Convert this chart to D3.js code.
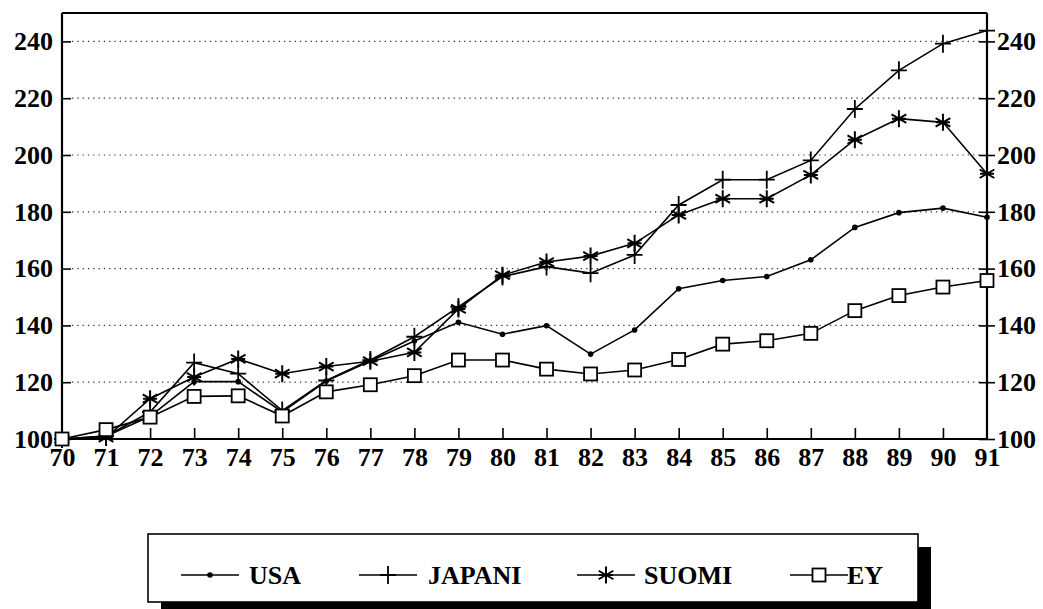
<!DOCTYPE html>
<html><head><meta charset="utf-8">
<script src="https://cdn.jsdelivr.net/npm/d3@7"></script>
<style>
html,body{margin:0;padding:0;background:#fff;}
svg{display:block;}
svg text{font-family:"Liberation Serif","DejaVu Serif","Times New Roman",serif !important;font-weight:bold;fill:#000;}
</style></head>
<body>
<script>
const years = ["70","71","72","73","74","75","76","77","78","79","80","81","82","83","84","85","86","87","88","89","90","91"];
const usa    = [100,101,108,120.2,120.2,109.5,120.4,127.5,134.5,141.1,136.9,139.9,129.9,138.4,152.9,155.8,157.2,163.1,174.5,179.7,181.3,178.1];
const japani = [100,101,109.5,126.9,123.0,110,120.6,127.8,136.0,146.5,157.2,160.7,158.4,164.8,182.4,191.3,191.3,198.1,216.2,229.8,239.2,243.8];
const suomi  = [100,100.5,114.2,121.8,128.2,123.0,125.5,127.4,130.5,145.8,157.7,162.3,164.4,168.9,178.9,184.6,184.6,193.0,205.4,212.8,211.5,193.4];
const ey     = [100,103.3,107.7,115.0,115.2,108.1,116.6,119.1,122.3,127.8,127.8,124.6,122.9,124.3,128.0,133.4,134.6,137.2,145.2,150.5,153.5,155.8];
const yTicks = [100,120,140,160,180,200,220,240];
const seriesNames = ["USA","JAPANI","SUOMI","EY"];
const markerTypes = ["dot","plus","star","square"];

const W = 1043, H = 609;
const FONT = "'Liberation Serif', 'DejaVu Serif', serif";
const svg = d3.select("body").append("svg").attr("width", W).attr("height", H);

const x = d3.scalePoint().domain(years).range([62, 987]);
const y = d3.scaleLinear().domain([100, 250]).range([439, 13]);

// gridlines
svg.append("g").selectAll("line").data(yTicks.filter(d => d > 100)).join("line")
  .attr("x1", 72).attr("x2", 980)
  .attr("y1", d => y(d)).attr("y2", d => y(d))
  .attr("stroke", "#333").attr("stroke-width", 1.2)
  .attr("stroke-dasharray", "1.3,4");

// frame top
svg.append("line").attr("x1", 62).attr("x2", 987).attr("y1", y(250)).attr("y2", y(250))
  .attr("stroke", "#000").attr("stroke-width", 2.2);

const leftAxis = d3.axisLeft(y).tickValues(yTicks).tickSize(-9).tickPadding(9).tickFormat(d3.format("d"));
const gl = svg.append("g").attr("transform", "translate(62,0)").call(leftAxis);
const rightAxis = d3.axisRight(y).tickValues(yTicks).tickSize(8).tickPadding(2).tickFormat(d3.format("d"));
const gr = svg.append("g").attr("transform", "translate(987,0)").call(rightAxis);
gr.selectAll(".tick line").attr("x1", -8);
const bottomAxis = d3.axisBottom(x).tickSize(-11).tickPadding(8);
const gb = svg.append("g").attr("transform", "translate(0,439)").call(bottomAxis);
gb.selectAll(".tick").filter(d => d === "70" || d === "91").select("line").remove();

[gl, gr, gb].forEach(g => {
  g.attr("font-family", FONT).attr("font-size", 26);
  g.select(".domain").attr("stroke", "#000").attr("stroke-width", 2.2);
  g.selectAll(".tick line").attr("stroke", "#000").attr("stroke-width", 1.6);
  g.selectAll(".tick text").style("font-family", FONT).style("font-size", "26px").style("font-weight", "bold").attr("fill", "#000");
});
gl.select(".domain").attr("d", `M0,${y(100)}V${y(250)}`);
gr.select(".domain").attr("d", `M0,${y(100)}V${y(250)}`);
gb.select(".domain").attr("d", `M62,0H987`);
gb.selectAll(".tick text").attr("dy", "0.72em");

const allSeries = [usa, japani, suomi, ey];
const line = d3.line().x((d, i) => x(years[i])).y(d => y(d));

function drawMarker(g, type, cx, cy) {
  if (type === "dot") {
    g.append("circle").attr("cx", cx).attr("cy", cy).attr("r", 2.8).attr("fill", "#000");
  } else if (type === "plus") {
    g.append("path").attr("d", `M${cx-8},${cy}H${cx+8}M${cx},${cy-9}V${cy+9}`)
      .attr("stroke", "#000").attr("stroke-width", 1.8).attr("fill", "none");
  } else if (type === "star") {
    const r = 8.5;
    let p = "";
    [90, 30, 150].forEach(a => {
      const dx = r * Math.cos(a * Math.PI / 180), dy = r * Math.sin(a * Math.PI / 180);
      p += `M${cx-dx},${cy-dy}L${cx+dx},${cy+dy}`;
    });
    p += `M${cx-7},${cy}H${cx+7}`;
    g.append("path").attr("d", p).attr("stroke", "#000").attr("stroke-width", 2).attr("fill", "none");
  } else if (type === "square") {
    g.append("rect").attr("x", cx-6.5).attr("y", cy-6.5).attr("width", 13).attr("height", 13)
      .attr("fill", "#fff").attr("stroke", "#000").attr("stroke-width", 1.8);
  }
}

allSeries.forEach((s) => {
  svg.append("path").datum(s).attr("d", line).attr("fill", "none")
    .attr("stroke", "#000").attr("stroke-width", 1.6);
});
allSeries.forEach((s, k) => {
  const g = svg.append("g");
  s.forEach((v, i) => drawMarker(g, markerTypes[k], x(years[i]), y(v)));
});

// legend
const lg = svg.append("g");
const bx = 148, by = 534, bw = 770, bh = 68;
lg.append("rect").attr("x", bx + bw).attr("y", by + 13).attr("width", 13).attr("height", bh)
  .attr("fill", "#000");
lg.append("rect").attr("x", bx + 13).attr("y", by + bh).attr("width", bw).attr("height", 13)
  .attr("fill", "#000");
lg.append("rect").attr("x", bx).attr("y", by).attr("width", bw).attr("height", bh)
  .attr("fill", "#fff").attr("stroke", "#000").attr("stroke-width", 1.6);
const legX = [181, 359, 577, 790];
const legTextX = [249, 428, 644, 847];
const ly = 575;
seriesNames.forEach((n, k) => {
  const g = lg.append("g");
  g.append("line").attr("x1", legX[k]).attr("x2", legX[k] + 58).attr("y1", ly).attr("y2", ly)
    .attr("stroke", "#000").attr("stroke-width", 1.6);
  drawMarker(g, markerTypes[k], legX[k] + 29, ly);
  g.append("text").attr("x", legTextX[k]).attr("y", ly + 9)
    .style("font-family", FONT).style("font-size", "26px").style("font-weight", "bold").text(n);
});
</script>
</body></html>
